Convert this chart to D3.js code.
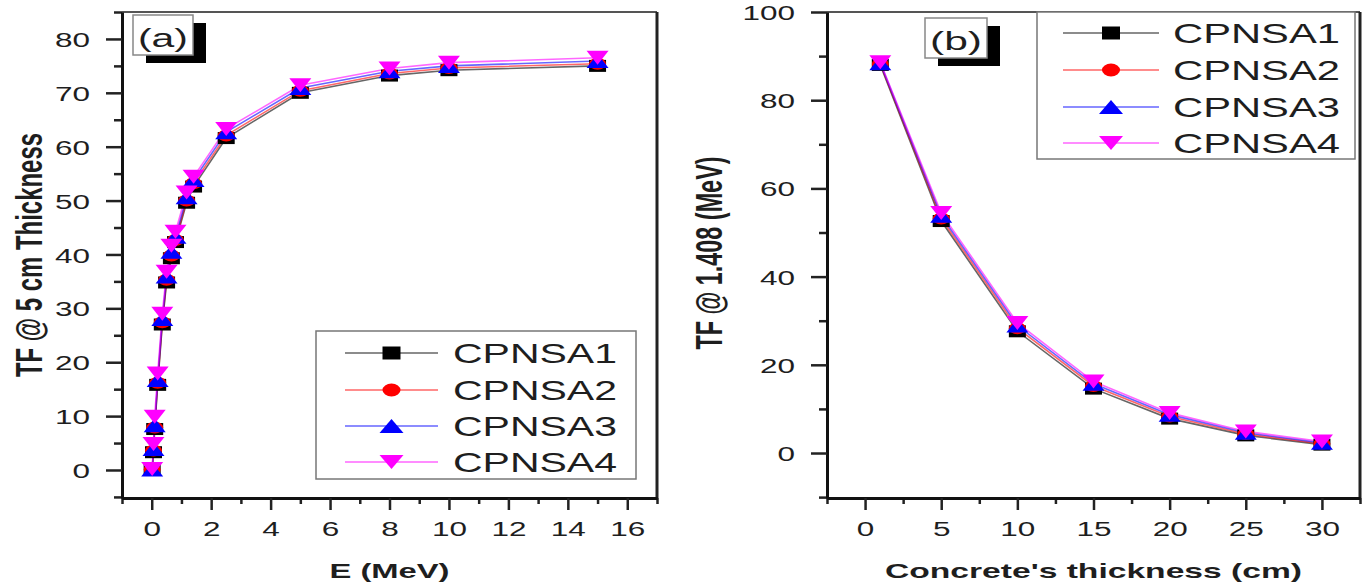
<!DOCTYPE html>
<html>
<head>
<meta charset="utf-8">
<script src="https://cdn.jsdelivr.net/npm/d3@7"></script>
<style>
  body { margin: 0; background: #fff; }
  svg { display: block; font-family: "Liberation Sans", Arial, sans-serif; }
</style>
</head>
<body>
<svg id="chart" width="1368" height="586"></svg>
<script>
'use strict';

// panel (a): TF at 5 cm thickness vs photon energy (MeV)
const energy = [0.015, 0.06, 0.1, 0.2, 0.356, 0.5, 0.662, 0.8, 1.173, 1.408, 2.506, 5, 8, 10, 15];
const tf5_CPNSA1 = [0.0, 3.3, 7.6, 15.8, 27.0, 34.8, 39.3, 42.3, 49.6, 52.6, 61.6, 70.0, 73.2, 74.2, 75.0];
const tf5_CPNSA2 = [0.1, 3.6, 7.9, 16.2, 27.4, 35.3, 39.8, 42.7, 50.0, 53.2, 62.1, 70.4, 73.6, 74.6, 75.4];
const tf5_CPNSA3 = [0.1, 3.9, 8.3, 16.7, 28.0, 35.9, 40.5, 43.3, 50.6, 53.8, 62.7, 70.9, 74.0, 75.0, 75.9];
const tf5_CPNSA4 = [0.2, 4.8, 9.9, 17.9, 29.0, 36.8, 41.6, 44.2, 51.5, 54.4, 63.3, 71.4, 74.5, 75.6, 76.5];

// panel (b): TF at 1.408 MeV vs concrete thickness (cm)
const thickness = [1, 5, 10, 15, 20, 25, 30];
const tf1408_CPNSA1 = [88.0, 52.6, 27.6, 14.6, 7.8, 4.0, 1.9];
const tf1408_CPNSA2 = [88.2, 53.2, 28.3, 15.2, 8.3, 4.3, 2.1];
const tf1408_CPNSA3 = [88.4, 53.8, 28.9, 15.7, 8.7, 4.6, 2.3];
const tf1408_CPNSA4 = [88.6, 54.4, 29.5, 16.2, 9.1, 4.9, 2.6];

const seriesNames = ['CPNSA1', 'CPNSA2', 'CPNSA3', 'CPNSA4'];
const seriesColors = ['#000000', '#ff0000', '#0000ff', '#ff00ff'];
const seriesSymbols = ['square', 'circle', 'up', 'down'];

const xTicksA = [0, 2, 4, 6, 8, 10, 12, 14, 16];
const xMinorA = [-1, 1, 3, 5, 7, 9, 11, 13, 15, 17];
const yTicksA = [0, 10, 20, 30, 40, 50, 60, 70, 80];
const yMinorA = [-5, 5, 15, 25, 35, 45, 55, 65, 75, 85];

const xTicksB = [0, 5, 10, 15, 20, 25, 30];
const xMinorB = [-2.5, 2.5, 7.5, 12.5, 17.5, 22.5, 27.5, 32.5];
const yTicksB = [0, 20, 40, 60, 80, 100];
const yMinorB = [-10, 10, 30, 50, 70, 90];

const SX = 1.5;   // the picture is stretched sideways
const TEXT = '#1e1e1e';

const svg = d3.select('#chart');

function symbolPath(kind, w, h) {
  const a = w / 2, b = h / 2;
  if (kind === 'square') return `M${-a},${-b}H${a}V${b}H${-a}Z`;
  if (kind === 'circle') return `M${-a},0A${a},${b} 0 1,0 ${a},0A${a},${b} 0 1,0 ${-a},0Z`;
  if (kind === 'up') return `M0,${-b}L${a},${b}L${-a},${b}Z`;
  return `M0,${b}L${a},${-b}L${-a},${-b}Z`;
}

function symbolSize(kind, big) {
  if (kind === 'up' || kind === 'down') return big ? [24, 14] : [22, 14];
  return big ? [18, 13] : [17, 12];
}

function makePanel(cfg) {
  const x = d3.scaleLinear().domain(cfg.xDomain).range([cfg.left, cfg.right]);
  const y = d3.scaleLinear().domain(cfg.yDomain).range([cfg.bottom, cfg.top]);
  const g = svg.append('g');

  // top + right frame lines
  g.append('line')
    .attr('x1', cfg.left).attr('x2', cfg.right).attr('y1', cfg.top).attr('y2', cfg.top)
    .attr('stroke', '#555').attr('stroke-width', 2);
  g.append('line')
    .attr('x1', cfg.right).attr('x2', cfg.right).attr('y1', cfg.top).attr('y2', cfg.bottom)
    .attr('stroke', '#222').attr('stroke-width', 3);

  // minor ticks
  g.append('g').attr('transform', `translate(0,${cfg.bottom})`)
    .call(d3.axisBottom(x).tickValues(cfg.xMinor).tickSize(6).tickSizeOuter(0).tickFormat(''))
    .call(s => s.select('.domain').remove())
    .selectAll('line').attr('stroke', '#222').attr('stroke-width', 2.5);
  g.append('g').attr('transform', `translate(${cfg.left},0)`)
    .call(d3.axisLeft(y).tickValues(cfg.yMinor).tickSize(8).tickSizeOuter(0).tickFormat(''))
    .call(s => s.select('.domain').remove())
    .selectAll('line').attr('stroke', '#222').attr('stroke-width', 2.5);

  // major ticks + labels
  const xa = g.append('g').attr('transform', `translate(0,${cfg.bottom})`)
    .call(d3.axisBottom(x).tickValues(cfg.xTicks).tickSize(12).tickSizeOuter(0));
  xa.select('.domain').attr('stroke', '#111').attr('stroke-width', 3);
  xa.selectAll('line').attr('stroke', '#222').attr('stroke-width', 2.5);
  xa.selectAll('text')
    .attr('y', 0).attr('dy', 0)
    .attr('transform', `translate(0,38) scale(${SX},1)`)
    .attr('fill', TEXT).attr('font-size', 21)
    .attr('font-family', '"Liberation Sans", Arial, sans-serif');

  const ya = g.append('g').attr('transform', `translate(${cfg.left},0)`)
    .call(d3.axisLeft(y).tickValues(cfg.yTicks).tickSize(16).tickSizeOuter(0));
  ya.select('.domain').attr('stroke', '#111').attr('stroke-width', 3);
  ya.selectAll('line').attr('stroke', '#222').attr('stroke-width', 2.5);
  ya.selectAll('text')
    .attr('x', 0).attr('dy', '0.36em')
    .attr('transform', `translate(-32,0) scale(${SX},1)`)
    .attr('fill', TEXT).attr('font-size', 21)
    .attr('font-family', '"Liberation Sans", Arial, sans-serif');

  // axis titles
  g.append('text')
    .attr('x', (cfg.left + cfg.right) / 2).attr('y', 578)
    .attr('text-anchor', 'middle').attr('font-weight', 'bold').attr('font-size', 21)
    .attr('textLength', cfg.xTitleLen).attr('lengthAdjust', 'spacingAndGlyphs')
    .attr('fill', TEXT).text(cfg.xTitle);
  g.append('text')
    .attr('transform', `translate(${cfg.yTitleX},${cfg.yTitleY}) scale(${SX},1) rotate(-90)`)
    .attr('text-anchor', 'middle').attr('font-weight', 'bold').attr('font-size', 25)
    .attr('textLength', cfg.yTitleLen).attr('lengthAdjust', 'spacingAndGlyphs')
    .attr('fill', TEXT).text(cfg.yTitle);

  // series
  const line = d3.line().x(d => x(d[0])).y(d => y(d[1]));
  cfg.series.forEach((vals, i) => {
    const pts = cfg.xs.map((v, k) => [v, vals[k]]);
    g.append('path').datum(pts)
      .attr('d', line).attr('fill', 'none')
      .attr('stroke', seriesColors[i]).attr('stroke-opacity', 0.6).attr('stroke-width', 1.6);
  });
  cfg.series.forEach((vals, i) => {
    const sz = symbolSize(seriesSymbols[i], false);
    g.append('g').selectAll('path')
      .data(cfg.xs.map((v, k) => [v, vals[k]]))
      .enter().append('path')
      .attr('transform', d => `translate(${x(d[0])},${y(d[1])})`)
      .attr('d', symbolPath(seriesSymbols[i], sz[0], sz[1]))
      .attr('fill', seriesColors[i]);
  });

  // panel label box with shadow
  const lb = cfg.labelBox;
  g.append('rect').attr('x', lb[0] + 13).attr('y', lb[1] + 8).attr('width', lb[2]).attr('height', lb[3])
    .attr('fill', '#000');
  g.append('rect').attr('x', lb[0]).attr('y', lb[1]).attr('width', lb[2]).attr('height', lb[3])
    .attr('fill', '#fff').attr('stroke', '#888').attr('stroke-width', 1.5);
  g.append('text')
    .attr('x', lb[0] + lb[2] / 2).attr('y', lb[1] + lb[3] - 8)
    .attr('text-anchor', 'middle').attr('font-size', 26)
    .attr('textLength', lb[2] - 10).attr('lengthAdjust', 'spacingAndGlyphs')
    .attr('fill', TEXT).text(cfg.label);

  // legend
  const lg = cfg.legend;
  g.append('rect').attr('x', lg.x).attr('y', lg.y).attr('width', lg.w).attr('height', lg.h)
    .attr('fill', '#fff').attr('stroke', '#777').attr('stroke-width', 1.5);
  const items = g.append('g').selectAll('g')
    .data(seriesNames).enter().append('g')
    .attr('transform', (d, i) => `translate(0,${lg.rows[i]})`);
  items.append('line')
    .attr('x1', lg.lineX[0]).attr('x2', lg.lineX[1])
    .attr('stroke', (d, i) => seriesColors[i]).attr('stroke-opacity', 0.45).attr('stroke-width', 2);
  items.append('path')
    .attr('transform', `translate(${(lg.lineX[0] + lg.lineX[1]) / 2},0)`)
    .attr('d', (d, i) => {
      const sz = symbolSize(seriesSymbols[i], true);
      return symbolPath(seriesSymbols[i], sz[0], sz[1]);
    })
    .attr('fill', (d, i) => seriesColors[i]);
  items.append('text')
    .attr('x', lg.textX).attr('dy', '0.36em').attr('font-size', 28)
    .attr('textLength', lg.textLen).attr('lengthAdjust', 'spacingAndGlyphs')
    .attr('fill', TEXT).text(d => d);
}

makePanel({
  left: 122, right: 657, top: 12, bottom: 498,
  xDomain: [-1, 17], yDomain: [-5.2, 85],
  xTicks: xTicksA, xMinor: xMinorA, yTicks: yTicksA, yMinor: yMinorA,
  xs: energy, series: [tf5_CPNSA1, tf5_CPNSA2, tf5_CPNSA3, tf5_CPNSA4],
  xTitle: 'E (MeV)', xTitleLen: 120,
  yTitle: 'TF @ 5 cm Thickness', yTitleX: 42, yTitleY: 255, yTitleLen: 244,
  label: '(a)', labelBox: [133, 15, 60, 40],
  legend: {
    x: 316, y: 331, w: 320, h: 148, rows: [353, 390, 426, 462],
    lineX: [345, 438], textX: 453, textLen: 164
  }
});

makePanel({
  left: 827, right: 1360, top: 12, bottom: 498,
  xDomain: [-2.5, 32.5], yDomain: [-10.2, 100],
  xTicks: xTicksB, xMinor: xMinorB, yTicks: yTicksB, yMinor: yMinorB,
  xs: thickness, series: [tf1408_CPNSA1, tf1408_CPNSA2, tf1408_CPNSA3, tf1408_CPNSA4],
  xTitle: "Concrete's thickness (cm)", xTitleLen: 417,
  yTitle: 'TF @ 1.408 (MeV)', yTitleX: 722, yTitleY: 253, yTitleLen: 193,
  label: '(b)', labelBox: [925, 18, 62, 40],
  legend: {
    x: 1037, y: 12, w: 318, h: 147, rows: [33, 70, 107, 143],
    lineX: [1063, 1159], textX: 1173, textLen: 167
  }
});
</script>
</body>
</html>
